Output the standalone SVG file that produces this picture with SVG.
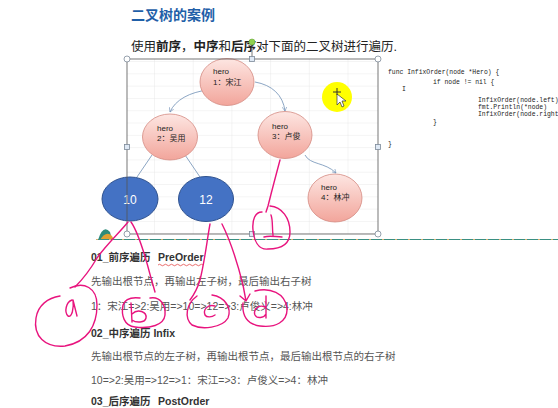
<svg xmlns="http://www.w3.org/2000/svg" width="558" height="408" viewBox="0 0 558 408">
<style>
.title{font-family:"Liberation Sans","Noto Sans CJK SC",sans-serif;font-size:14px;font-weight:bold;fill:#1f5fa8}
.intro{font-family:"Liberation Sans","Noto Sans CJK SC",sans-serif;font-size:12.5px;fill:#222}
.h{font-family:"Liberation Sans","Noto Sans CJK SC",sans-serif;font-size:10.5px;font-weight:bold;fill:#333}
.p{font-family:"Liberation Sans","Noto Sans CJK SC",sans-serif;font-size:10.5px;fill:#555}
.code{font-family:"Liberation Mono",monospace;font-size:6.4px;fill:#222}
.nt{font-family:"Liberation Sans","Noto Sans CJK SC",sans-serif;font-size:8px;fill:#222}
.bt{font-family:"Liberation Sans",sans-serif;font-size:12px;fill:#fff;text-anchor:middle}
.pink{fill:url(#pg);stroke:#d48a82;stroke-width:0.8}
.blue{fill:#4472c4;stroke:#2f528f;stroke-width:1}
.edge{fill:none;stroke:#6f8fb5;stroke-width:0.8}
.ink{fill:none;stroke:#e8147e;stroke-width:1.4;stroke-linecap:round;stroke-linejoin:round}
.frame{fill:none;stroke:#555;stroke-width:0.8}
.hc{fill:#fff;stroke:#7d8a99;stroke-width:0.8}
.hs{fill:#dfe9f5;stroke:#7d8a99;stroke-width:0.8}
</style>
<defs>
<linearGradient id="pg" x1="0" y1="0" x2="0" y2="1">
<stop offset="0" stop-color="#fde6e2"/>
<stop offset="1" stop-color="#f2a59b"/>
</linearGradient>
<pattern id="grid" x="116.3" y="62" width="38.7" height="12.3" patternUnits="userSpaceOnUse">
<path d="M38.7,0 V12.3 M0,12.3 H38.7" fill="none" stroke="#e4e4e4" stroke-width="0.8"/>
</pattern>
<marker id="ah" viewBox="0 0 8 8" refX="7" refY="4" markerWidth="6" markerHeight="6" orient="auto">
<path d="M0,0 L7,4 L0,8" fill="none" stroke="#6f8fb5" stroke-width="1"/>
</marker>
</defs>
<rect width="558" height="408" fill="#fff"/>

<text class="title" x="131" y="20">二叉树的案例</text>
<text class="intro" x="131" y="51">使用<tspan font-weight="bold">前序</tspan>，<tspan font-weight="bold">中序</tspan>和<tspan font-weight="bold">后序</tspan>对下面的二叉树进行遍历.</text>

<!-- image area -->
<rect x="127" y="59" width="251" height="175" fill="url(#grid)"/>
<path d="M98,240 Q103,224 110,232 L112,240 Z" fill="#2e8b7a"/>
<path d="M100,240 Q106,230 112,236 L114,240 Z" fill="#e0a030"/>
<line x1="96" y1="239.5" x2="558" y2="239.5" stroke="#3a8f82" stroke-width="1.2"/>
<line x1="96" y1="239.5" x2="558" y2="239.5" stroke="#d8b070" stroke-width="1.2" stroke-dasharray="2 11"/>

<g id="connectors">
<path class="edge" d="M208,90 C190,92 175,100 170,112" marker-end="url(#ah)"/>
<path class="edge" d="M255,82 C272,85 283,95 285,111" marker-end="url(#ah)"/>
<path class="edge" d="M305,155 C310,165 325,162 336,173" marker-end="url(#ah)"/>
<line class="edge" x1="152" y1="155" x2="137" y2="177"/>
<line class="edge" x1="183" y1="152" x2="200" y2="177"/>
</g>

<g id="n1"><ellipse class="pink" cx="227" cy="82" rx="27" ry="23.5"/><text class="nt" x="213" y="74">hero</text><text class="nt" x="213" y="85">1：宋江</text></g>
<g id="n2"><ellipse class="pink" cx="170" cy="137" rx="27.5" ry="23"/><text class="nt" x="157" y="131">hero</text><text class="nt" x="157" y="141">2：吴用</text></g>
<g id="n3"><ellipse class="pink" cx="285" cy="135" rx="27" ry="23.5"/><text class="nt" x="272" y="129">hero</text><text class="nt" x="272" y="139">3：卢俊</text></g>
<g id="n4"><ellipse class="pink" cx="335" cy="198" rx="27" ry="24"/><text class="nt" x="321" y="190">hero</text><text class="nt" x="321" y="200">4：林冲</text></g>
<g id="n10"><ellipse class="blue" cx="130" cy="199" rx="28" ry="22"/><text class="bt" x="130" y="203.5">10</text></g>
<g id="n12"><ellipse class="blue" cx="206" cy="199" rx="27.5" ry="22.5"/><text class="bt" x="206" y="203.5">12</text></g>

<!-- cursor highlight -->
<circle cx="337" cy="97" r="15" fill="#ffff00"/>
<path d="M337,94 L337,105 L340,102 L342,107 L344,106 L342,101 L346,101 Z" fill="#fff" stroke="#333" stroke-width="0.7"/>
<path d="M333,92 H341 M337,88 V95" stroke="#333" stroke-width="1" fill="none"/>

<!-- selection frame -->
<rect class="frame" x="127" y="59" width="251" height="175"/>
<line x1="252" y1="45" x2="252" y2="59" stroke="#555" stroke-width="0.8"/>
<circle cx="252" cy="42" r="3" fill="#8fd14f" stroke="#6aa83a" stroke-width="0.6"/>
<circle class="hc" cx="127" cy="59" r="3"/>
<circle class="hc" cx="378" cy="59" r="3"/>
<circle class="hc" cx="127" cy="234" r="3"/>
<circle class="hc" cx="378" cy="234" r="3"/>
<rect class="hs" x="249.5" y="56.5" width="5" height="5"/>
<rect class="hs" x="124.5" y="144.5" width="5" height="5"/>
<rect class="hs" x="375.5" y="144.5" width="5" height="5"/>
<rect class="hs" x="249.5" y="231.5" width="5" height="5"/>

<!-- code -->
<text class="code" x="388" y="74">func InfixOrder(node *Hero) {</text>
<text class="code" x="433" y="84">if node != nil {</text>
<text class="code" x="402" y="91" font-size="9">I</text>
<text class="code" x="478" y="102" font-size="6.2">InfixOrder(node.left)</text>
<text class="code" x="478" y="109" font-size="6.2">fmt.Println(*node)</text>
<text class="code" x="478" y="116" font-size="6.2">InfixOrder(node.right</text>
<text class="code" x="433" y="124">}</text>
<text class="code" x="388" y="146">}</text>

<!-- lower text -->
<text class="h" x="91" y="261">01_前序遍历<tspan x="158">PreOrder</tspan></text>
<path d="M158,265 q1.5,-1.5 3,0 t3,0 t3,0 t3,0 t3,0 t3,0 t3,0 t3,0 t3,0 t3,0 t3,0 t3,0 t3,0 t3,0 t3,0" fill="none" stroke="#e03030" stroke-width="0.7"/>
<text class="p" x="91" y="285">先输出根节点，再输出左子树，最后输出右子树</text>
<text class="p" x="91" y="310">1：宋江=&gt;2:吴用=&gt;10=&gt;12=&gt;3:卢俊义=&gt;4:林冲</text>
<text class="h" x="91" y="337">02_中序遍历 Infix</text>
<text class="p" x="91" y="360">先输出根节点的左子树，再输出根节点，最后输出根节点的右子树</text>
<text class="p" x="91" y="384">10=&gt;2:吴用=&gt;12=&gt;1：宋江=&gt;3：卢俊义=&gt;4：林冲</text>
<text class="h" x="91" y="405">03_后序遍历<tspan x="158">PostOrder</tspan></text>

<!-- handwritten annotations -->
<g id="ink">
<path class="ink" d="M128,222 C120,232 106,245 97,258 C90,270 84,278 75,287"/>
<path class="ink" d="M70,288 C84,281 97,288 97,305 C97,325 88,342 65,346 C45,348 33,336 36,318 C38,305 48,298 60,296"/>
<path class="ink" d="M72,300 C66,302 64,312 68,316 C72,318 74,308 73,300 L77,316"/>
<path class="ink" d="M131,222 C138,232 145,255 151,278 L155,292"/>
<path class="ink" d="M150,298 C160,296 166,305 165,315 C164,325 150,329 135,327 C124,326 121,315 123,305 C125,299 132,297 140,298"/>
<path class="ink" d="M131,303 L132,322 M132,314 C138,308 147,312 146,318 C145,323 136,323 132,320"/>
<path class="ink" d="M210,224 C207,240 205,260 200,280 C197,290 193,296 190,300"/>
<path class="ink" d="M197,296 C186,304 184,318 192,325 C202,330 222,328 228,318 C232,308 225,297 212,295"/>
<path class="ink" d="M215,306 C207,304 203,310 205,315 C207,318 212,317 215,315"/>
<path class="ink" d="M222,224 C230,240 238,265 243,285 L246,301 M240,296 L246,301 L250,294"/>
<path class="ink" d="M255,291 C270,287 285,293 287,308 C288,322 275,328 260,326 C247,324 242,315 243,303"/>
<path class="ink" d="M265,307 C258,304 253,310 255,315 C257,319 264,318 266,314 M266,296 L266,318"/>
<path class="ink" d="M280,160 C276,175 272,190 268,206 L266,212"/>
<path class="ink" d="M262,212 C255,212 252,220 253,230 C254,240 258,250 268,249 C280,249 290,245 290,232 C290,218 282,207 270,206"/>
<path class="ink" d="M271,215 C273,220 272,228 273,235 M264,237 C270,235 276,237 282,237"/>
</g>
</svg>
